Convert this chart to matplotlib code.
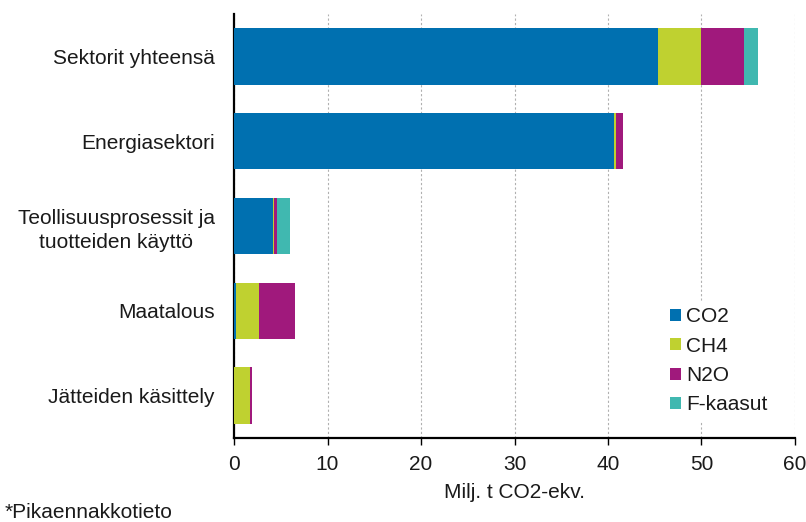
import matplotlib
matplotlib.use('Agg')
import matplotlib.pyplot as plt
import numpy as np

plt.rcParams['font.family'] = ['Liberation Sans', 'DejaVu Sans']

# emissions by sector and gas, million t CO2-eq.
sectors = ["Sektorit yhteensä", "Energiasektori",
           "Teollisuusprosessit ja\ntuotteiden käyttö", "Maatalous",
           "Jätteiden käsittely"]
gases = ["CO2", "CH4", "N2O", "F-kaasut"]
co2 = [45.4, 40.6, 4.2, 0.2, 0.05]
ch4 = [4.5, 0.3, 0.05, 2.5, 1.65]
n2o = [4.6, 0.7, 0.4, 3.8, 0.2]
fgas = [1.5, 0.0, 1.3, 0.0, 0.0]
colors = ["#0070b0", "#bfd130", "#a0197c", "#40b8b0"]

fs = 15
txt = "#1a1a1a"

fig = plt.figure(figsize=(8.06, 5.22), dpi=100)
ax = fig.add_axes([234/806, 1-438/522, (795-234)/806, (438-14)/522])

y = np.arange(len(sectors))
left = np.zeros(len(sectors))
for name, vals, c in zip(gases, [co2, ch4, n2o, fgas], colors):
    ax.barh(y, vals, left=left, height=0.667, color=c, label=name, zorder=3)
    left += np.array(vals)

ax.set_ylim(len(sectors) - 0.5, -0.5)
ax.set_xlim(0, 60)
ax.set_xticks(range(0, 61, 10))
ax.set_yticks(y)
ax.set_yticklabels(sectors, fontsize=fs, color=txt)
ax.tick_params(axis='y', length=0, pad=14)
ax.tick_params(axis='x', length=5, width=1, labelsize=fs, labelcolor=txt, pad=7)
for lbl in ax.get_yticklabels():
    lbl.set_horizontalalignment('right')
    lbl.set_multialignment('center')
    lbl.set_linespacing(1.3)

ax.grid(axis='x', color='#b0b0b0', linestyle=(0, (2, 2)), linewidth=0.8, zorder=0)
for s in ['top', 'right']:
    ax.spines[s].set_visible(False)
ax.spines['left'].set_linewidth(1.6)
ax.spines['bottom'].set_linewidth(1.6)

ax.set_xlabel("Milj. t CO2-ekv.", fontsize=fs, color=txt, labelpad=7)

leg = ax.legend(loc='upper left', bbox_to_anchor=(664/806, 1-301/522),
                bbox_transform=fig.transFigure, frameon=True,
                fontsize=fs, handlelength=0.5, handleheight=0.5,
                handletextpad=0.25, labelspacing=0.5, borderpad=0.3,
                borderaxespad=0)
leg.get_frame().set_edgecolor('white')
leg.get_frame().set_facecolor('white')
leg.get_frame().set_alpha(1)
leg.get_frame().set_boxstyle('square', pad=0)
leg.set_zorder(5)
for t in leg.get_texts():
    t.set_color(txt)

fig.text(5/806, 1-512/522, "*Pikaennakkotieto", fontsize=fs, color=txt,
         va='center', ha='left')

fig.savefig("out.png", dpi=100)
